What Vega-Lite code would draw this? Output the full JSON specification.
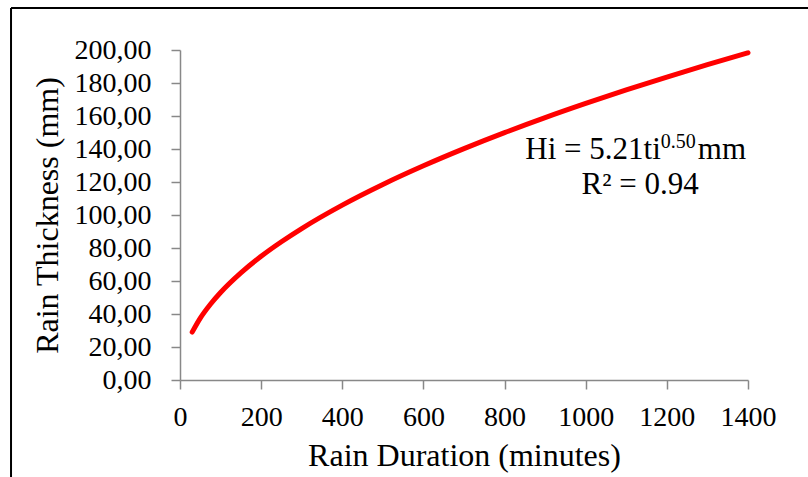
{
  "$schema": "https://vega.github.io/schema/vega-lite/v6.json",
  "autosize": {"type": "none"},
  "width": 568,
  "height": 330,
  "padding": {"left": 180, "top": 50, "right": 60, "bottom": 97},
  "background": "white",
  "config": {
    "view": {"stroke": null},
    "font": "Liberation Serif",
    "locale": {"number": {"decimal": ",", "thousands": ".", "grouping": [3], "currency": ["", ""]}},
    "axis": {"grid": false, "domainColor": "#888888", "tickColor": "#888888", "domainWidth": 1.5, "tickWidth": 1.5, "labelColor": "black", "titleColor": "black", "labelFont": "Liberation Serif", "titleFont": "Liberation Serif", "titleFontWeight": "normal", "labelOverlap": false}
  },
  "datasets": {
    "curve": [
      {"t": 30, "h": 29.0}, {"t": 50, "h": 37.5}, {"t": 75, "h": 45.9}, {"t": 100, "h": 53.0},
      {"t": 150, "h": 64.9}, {"t": 200, "h": 75.0}, {"t": 250, "h": 83.8}, {"t": 300, "h": 91.8},
      {"t": 400, "h": 106.0}, {"t": 500, "h": 118.5}, {"t": 600, "h": 129.8}, {"t": 700, "h": 140.2},
      {"t": 800, "h": 149.9}, {"t": 900, "h": 159.0}, {"t": 1000, "h": 167.6}, {"t": 1100, "h": 175.8},
      {"t": 1200, "h": 183.6}, {"t": 1300, "h": 191.1}, {"t": 1400, "h": 198.3}
    ],
    "border": [
      {"t": -416.5, "h": 225.5, "t2": -416.5, "h2": -60},
      {"t": -416.5, "h": 225.5, "t2": 1560, "h2": 225.5}
    ],
    "eq": [{"t": 1185, "h": 133.9}],
    "r2": [{"t": 1134, "h": 112.7}]
  },
  "encoding": {
    "x": {"field": "t", "type": "quantitative", "title": "Rain Duration (minutes)",
      "scale": {"domain": [0, 1400], "nice": false, "zero": false},
      "axis": {"values": [0, 200, 400, 600, 800, 1000, 1200, 1400], "format": "d", "labelFontSize": 28, "titleFontSize": 32, "tickSize": 9, "labelPadding": 14, "titlePadding": 9, "labelFlush": false, "labelOverlap": false}},
    "y": {"field": "h", "type": "quantitative", "title": "Rain Thickness (mm)",
      "scale": {"domain": [0, 200], "nice": false, "zero": false},
      "axis": {"values": [0, 20, 40, 60, 80, 100, 120, 140, 160, 180, 200], "tickCount": 11, "format": ".2f", "labelFontSize": 28, "titleFontSize": 32, "tickSize": 9, "labelPadding": 20, "titlePadding": 10, "labelFlush": false, "labelOverlap": false, "labelBound": false}}
  },
  "layer": [
    {
      "data": {"name": "border"},
      "mark": {"type": "rule", "color": "black", "strokeWidth": 2},
      "encoding": {
        "x2": {"field": "t2"},
        "y2": {"field": "h2"}
      }
    },
    {
      "data": {"name": "curve"},
      "mark": {"type": "line", "color": "#ff0000", "strokeWidth": 5, "strokeCap": "round", "interpolate": "monotone"}
    },
    {
      "data": {"name": "eq"},
      "mark": {"type": "text", "text": "Hi = 5.21ti", "align": "right", "baseline": "alphabetic", "fontSize": 31, "font": "Liberation Serif", "color": "black"}
    },
    {
      "data": {"name": "eq"},
      "mark": {"type": "text", "text": "0.50", "align": "left", "baseline": "alphabetic", "fontSize": 20, "dy": -11, "dx": 0, "font": "Liberation Serif", "color": "black"}
    },
    {
      "data": {"name": "eq"},
      "mark": {"type": "text", "text": "mm", "align": "left", "baseline": "alphabetic", "fontSize": 31, "dx": 37, "font": "Liberation Serif", "color": "black"}
    },
    {
      "data": {"name": "r2"},
      "mark": {"type": "text", "text": "R² = 0.94", "align": "center", "baseline": "alphabetic", "fontSize": 31, "font": "Liberation Serif", "color": "black"}
    }
  ]
}
